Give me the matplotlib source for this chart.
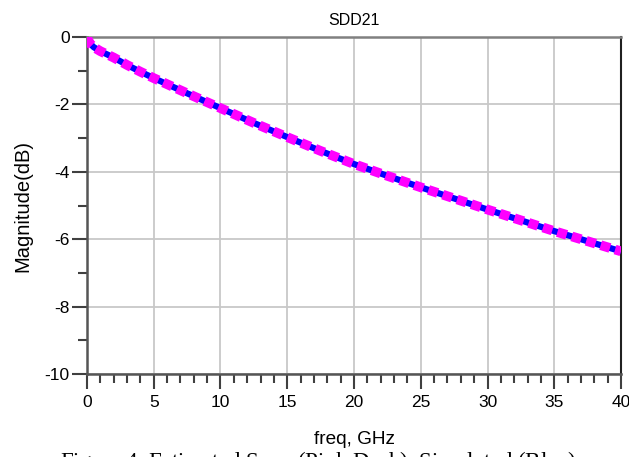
import matplotlib
matplotlib.use("Agg")
import matplotlib.pyplot as plt
from matplotlib.ticker import MultipleLocator

# values (freq in GHz, magnitude in dB)
freq = [0, 0.05, 0.1, 0.25, 0.5, 1, 2, 3, 4, 5, 7.5, 10, 12.5, 15, 17.5,
        20, 22.5, 25, 27.5, 30, 32.5, 35, 37.5, 40]
simulated = [0, -0.06, -0.10, -0.20, -0.30, -0.42, -0.61, -0.83, -1.03, -1.22,
             -1.67, -2.11, -2.55, -2.97, -3.38, -3.77, -4.12, -4.46, -4.79,
             -5.12, -5.44, -5.76, -6.06, -6.36]
estimated = simulated[:]  # pink dashed overlays the blue curve

x_ticks = [0, 5, 10, 15, 20, 25, 30, 35, 40]
y_ticks = [0, -2, -4, -6, -8, -10]

plt.rcParams['font.family'] = ['Liberation Sans', 'DejaVu Sans']
plt.rcParams['axes.unicode_minus'] = False
plt.rcParams['mathtext.fontset'] = 'stix'

fig = plt.figure(figsize=(6.29, 4.57), dpi=100)
ax = fig.add_axes([0.1383, 0.1816, 0.8490, 0.7374])

ax.plot(freq, simulated, color='#0000ff', lw=4.5, solid_capstyle='butt', zorder=3)
ax.plot(freq, estimated, color='#ff00ff', lw=7, dashes=(1.0, 0.55),
        dash_capstyle='butt', zorder=4)

ax.set_xlim(0, 40)
ax.set_ylim(-10, 0)
ax.set_xticks(x_ticks)
ax.set_yticks(y_ticks)
ax.xaxis.set_minor_locator(MultipleLocator(1))
ax.yaxis.set_minor_locator(MultipleLocator(1))
ax.grid(True, which='major', color='#c8c8c8', lw=1.3)
ax.set_axisbelow(True)

ax.tick_params(which='major', direction='out', length=11, width=1.5,
               color='#404040', labelsize=12.5)
ax.tick_params(which='minor', direction='out', length=6.5, width=1.5,
               color='#404040')
ax.tick_params(axis='x', which='major', pad=4)
ax.tick_params(axis='y', which='major', pad=1.5)
ax.tick_params(axis='x', which='both', top=False)

for side in ['left', 'bottom']:
    ax.spines[side].set_color('#555555')
    ax.spines[side].set_linewidth(1.8)
ax.spines['top'].set_color('#808080')
ax.spines['top'].set_linewidth(1.8)
ax.spines['right'].set_color('#202020')
ax.spines['right'].set_linewidth(1.5)

ax.set_title('SDD21', fontsize=11.5, pad=9)
ax.set_ylabel('Magnitude(dB)', fontsize=14.5, labelpad=9)
ax.set_xlabel('freq, GHz', fontsize=13.7, labelpad=15)

fig.text(0.095, 1 - 449 / 457, r'Figure 4. Estimated S$_{dd21}$ (Pink Dash), Simulated (Blue)',
         family='Liberation Serif', fontsize=16.5, ha='left', va='top')

fig.savefig('out.png', dpi=100)
